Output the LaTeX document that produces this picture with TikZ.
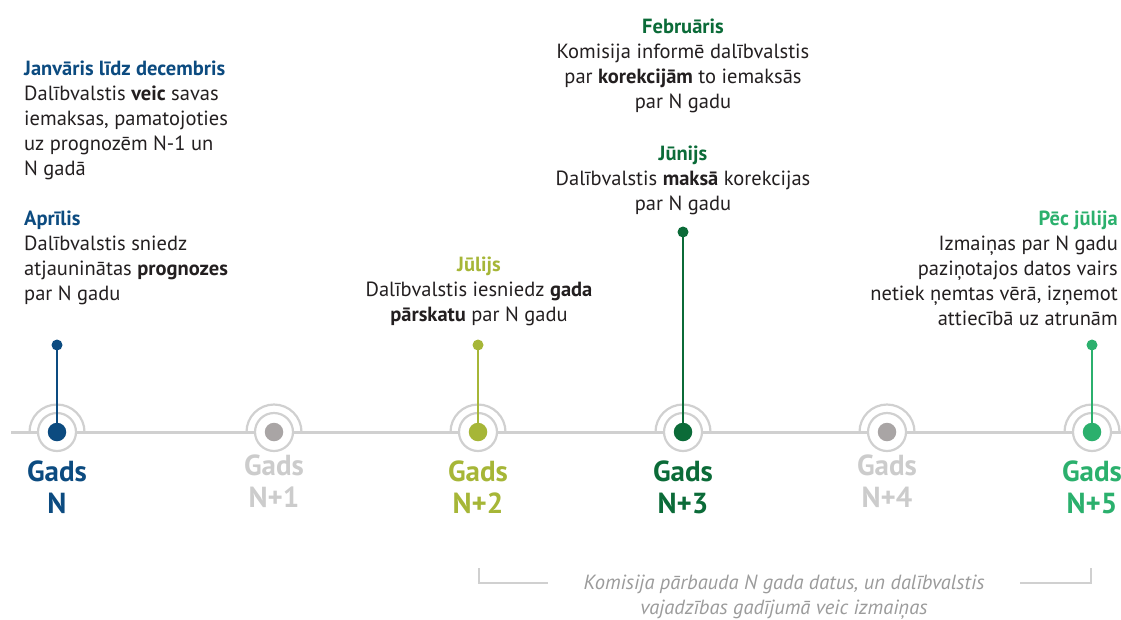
\documentclass[tikz,border=0pt]{standalone}
\usepackage{fontspec}
\setmainfont{PT Sans}
\definecolor{cN}{HTML}{0C4B80}
\definecolor{cG}{HTML}{A9A5A5}
\definecolor{cGt}{HTML}{CCCCCC}
\definecolor{cN2}{HTML}{A6B637}
\definecolor{cN3}{HTML}{0B6B38}
\definecolor{cN5}{HTML}{2BB06D}
\definecolor{lgray}{HTML}{D0D0D0}
\definecolor{body}{HTML}{231F20}
\definecolor{note}{HTML}{9B9B9B}
\tikzset{
  x=1pt, y=-1pt,
  bodytxt/.style={font=\fontsize{20.5}{24.8}\selectfont, text=body, inner sep=0pt},
  yearlbl/.style={font=\fontsize{29}{31.5}\selectfont\bfseries, align=center, anchor=base, inner sep=0pt},
  dotnode/.style={circle, minimum size=18.5pt, inner sep=0pt},
  tipdot/.style={circle, minimum size=11pt, inner sep=0pt},
  ringnode/.style={circle, draw=lgray, line width=2.2pt, fill=white, minimum size=38pt, inner sep=0pt},
  stem/.style={line width=2pt},
  axis/.style={draw=lgray, line width=3pt},
  bracket/.style={draw=lgray, line width=1.5pt},
}
\newcommand{\outerarc}[1]{\draw[lgray, line width=2.2pt] (#1) ++(27.5,0) arc[start angle=0, end angle=-180, radius=27.5];}
\begin{document}
\begin{tikzpicture}
\useasboundingbox (0,0) rectangle (1121,619);
% axis
\coordinate (axL) at (11,432);
\coordinate (axR) at (1121,432);
\draw[axis] (axL) -- (axR);
% centres
\coordinate (c0) at (57,432);
\coordinate (c1) at (274,432);
\coordinate (c2) at (478,432);
\coordinate (c3) at (683,432);
\coordinate (c4) at (887,432);
\coordinate (c5) at (1092,432);
\foreach \i in {0,...,5}{\outerarc{c\i}}
\foreach \i in {0,...,5}{\node[ringnode] (r\i) at (c\i) {};}
\node[dotnode, fill=cN] (d0) at (c0) {};
\node[dotnode, fill=cG] (d1) at (c1) {};
\node[dotnode, fill=cN2] (d2) at (c2) {};
\node[dotnode, fill=cN3] (d3) at (c3) {};
\node[dotnode, fill=cG] (d4) at (c4) {};
\node[dotnode, fill=cN5] (d5) at (c5) {};
% stems
\node[tipdot, fill=cN] (t0) at (57,345) {};
\node[tipdot, fill=cN2] (t2) at (478,345) {};
\node[tipdot, fill=cN3] (t3) at (683,232) {};
\node[tipdot, fill=cN5] (t5) at (1092,345) {};
\draw[stem, cN] (t0.center) -- (d0.center);
\draw[stem, cN2] (t2.center) -- (d2.center);
\draw[stem, cN3] (t3.center) -- (d3.center);
\draw[stem, cN5] (t5.center) -- (d5.center);
% year labels (anchor = baseline of last line)
\node[yearlbl, text=cN] (y0) at (57,513) {Gads\\N};
\node[yearlbl, text=cGt] (y1) at (274,507) {Gads\\N+1};
\node[yearlbl, text=cN2] (y2) at (478,513) {Gads\\N+2};
\node[yearlbl, text=cN3] (y3) at (683,513) {Gads\\N+3};
\node[yearlbl, text=cGt] (y4) at (887,507) {Gads\\N+4};
\node[yearlbl, text=cN5] (y5) at (1092,513) {Gads\\N+5};
% text blocks (anchor = baseline of last line)
\node[bodytxt, align=left, anchor=base west] (jan) at (24,175)
 {\textcolor{cN}{\bfseries Janvāris līdz decembris}\\Dalībvalstis \textbf{veic} savas\\iemaksas, pamatojoties\\uz prognozēm N-1 un\\N gadā};
\node[bodytxt, align=left, anchor=base west] (apr) at (24,300)
 {\textcolor{cN}{\bfseries Aprīlis}\\Dalībvalstis sniedz\\atjauninātas \textbf{prognozes}\\par N gadu};
\node[bodytxt, align=center, anchor=base] (feb) at (683,108)
 {\textcolor{cN3}{\bfseries Februāris}\\Komisija informē dalībvalstis\\par \textbf{korekcijām} to iemaksās\\par N gadu};
\node[bodytxt, align=center, anchor=base] (jun) at (683,210)
 {\textcolor{cN3}{\bfseries Jūnijs}\\Dalībvalstis \textbf{maksā} korekcijas\\par N gadu};
\node[bodytxt, align=center, anchor=base] (jul) at (479,321)
 {\textcolor{cN2}{\bfseries Jūlijs}\\Dalībvalstis iesniedz \textbf{gada}\\\textbf{pārskatu} par N gadu};
\node[bodytxt, align=right, anchor=base east] (pec) at (1118,325)
 {\textcolor{cN5}{\bfseries Pēc jūlija}\\Izmaiņas par N gadu\\paziņotajos datos vairs\\netiek ņemtas vērā, izņemot\\attiecībā uz atrunām};
% bottom note
\node[bodytxt, text=note, align=center, anchor=base, font=\fontsize{20.5}{24.5}\selectfont\itshape] (note) at (784,614)
 {Komisija pārbauda N gada datus, un dalībvalstis\\vajadzības gadījumā veic izmaiņas};
\coordinate (bl1) at (479,568);
\coordinate (bl2) at (479,583);
\coordinate (bl3) at (548,583);
\coordinate (br1) at (1020,583);
\coordinate (br2) at (1091,583);
\coordinate (br3) at (1091,568);
\draw[bracket] (bl1) -- (bl2) -- (bl3);
\draw[bracket] (br1) -- (br2) -- (br3);
\end{tikzpicture}
\end{document}
